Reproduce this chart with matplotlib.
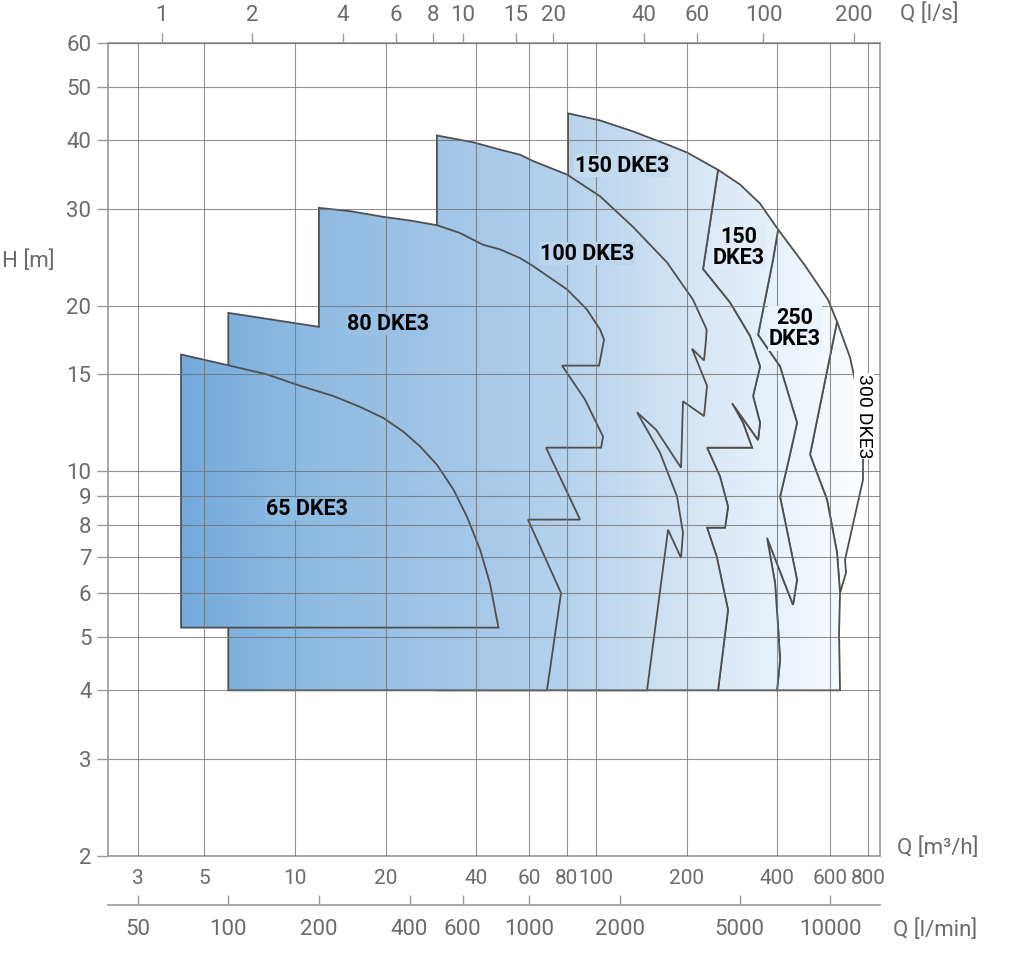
import numpy as np
import matplotlib
matplotlib.use('Agg')
import matplotlib.pyplot as plt
from matplotlib.patches import Polygon
from matplotlib.colors import LinearSegmentedColormap
from matplotlib.ticker import FixedLocator, FixedFormatter, NullLocator

plt.rcParams['font.family'] = ['Roboto', 'DejaVu Sans']

# Werte: Q in m3/h, H in m
h_floor = 4.0

# 65 DKE3 (geschlossene Kontur)
q65 = [4.18, 4.18, 47.4, 44.4, 41.2, 37.2, 33.6, 29.6, 26.0, 22.9, 19.65, 16.4, 13.4, 10.4, 8.05, 5.94]
h65 = [16.3, 5.2, 5.2, 6.26, 7.2, 8.28, 9.26, 10.28, 11.1, 11.8, 12.5, 13.1, 13.7, 14.3, 15.0, 15.6]

# 80 DKE3 (geschlossene Kontur)
q80 = [6.0, 6.0, 12.0, 12.0, 15.2, 19.6, 24.1, 29.6, 35.3, 42.1, 48.0, 55.9, 61.75, 80.1,
       93.1, 103.1, 106.3, 102.3, 77.1, 91.9, 105.5, 103.9, 68.2, 88.5, 59.4, 76.5, 68.7]
h80 = [4.0, 19.4, 18.3, 30.1, 29.7, 29.0, 28.55, 28.0, 27.1, 25.8, 25.3, 24.4, 23.6, 21.4,
       19.7, 18.1, 17.35, 15.56, 15.56, 13.5, 11.56, 11.04, 11.04, 8.17, 8.17, 6.01, 4.0]

# 100 DKE3: obere Kennlinie und rechter Rand
q100_top = [29.6, 39.1, 48.0, 55.9, 61.9, 80.1, 103.1, 132.7, 172.2, 210.0, 233.0, 232.0]
h100_top = [40.75, 39.6, 38.4, 37.6, 36.6, 34.6, 31.6, 27.8, 23.95, 20.5, 18.1, 17.35]
q100_edge = [228.4, 208.4, 233.8, 228.4, 194.5, 191.6, 158.3, 136.8, 163.2,
             185.8, 194.5, 191.6, 173.5, 147.7]
h100_edge = [15.9, 16.7, 14.3, 12.6, 13.4, 10.15, 11.9, 12.8, 10.8, 9.0, 7.73,
             6.96, 7.83, 4.0]

# gemeinsame obere Huellkurve 150 / 250 / 300 DKE3
q_env = [80.7, 103.1, 132.7, 172.2, 200.6, 254.3, 300.8, 350.7, 402.5, 494.7, 590.0,
         632.0, 698.1, 742.0, 765.1, 771.0, 771.0, 671.9, 677.0, 646.7, 646.7]
h_env = [44.7, 43.4, 41.45, 39.25, 37.95, 35.3, 33.2, 30.65, 27.5, 23.65, 20.5,
         18.7, 16.1, 13.8, 11.9, 10.5, 9.65, 6.91, 6.54, 6.01, 4.0]

# Grenzen zwischen den Bereichen (von oben nach unten)
q150_edge = [254.3, 226.7, 278.7, 324.9, 350.7, 332.4, 350.7, 345.4, 283.0,
             307.9, 329.9, 233.8, 258.2, 274.5, 268.3, 233.8, 251.8, 274.5, 254.3]
h150_edge = [35.3, 23.3, 20.25, 17.6, 15.5, 13.7, 12.25, 11.4, 13.3, 12.25,
             11.04, 11.04, 9.78, 8.62, 7.9, 7.9, 6.99, 5.6, 4.0]
q150b_edge = [402.5, 387.3, 345.4, 408.7, 465.4, 434.5, 408.7, 465.4, 451.4,
              370.0, 393.3, 402.5, 408.7, 399.4]
h150b_edge = [27.5, 24.25, 17.7, 15.5, 12.25, 10.36, 8.99, 6.35, 5.72, 7.57,
              6.27, 5.22, 4.54, 4.0]
q250_edge = [632.0, 514.0, 585.5, 632.0, 646.7, 641.8, 646.7]
h250_edge = [18.7, 10.72, 8.88, 7.11, 6.01, 5.09, 4.0]

labels = ['65 DKE3', '80 DKE3', '100 DKE3', '150 DKE3', '150\nDKE3', '250\nDKE3', '300 DKE3']
label_q = [10.96, 20.37, 93.3, 122.0, 298.7, 458.3, 776.9]
label_h = [8.55, 18.55, 24.87, 35.94, 25.5, 18.17, 12.58]

q_ticks = [3, 5, 10, 20, 40, 60, 80, 100, 200, 400, 600, 800]
ls_ticks = [1, 2, 4, 6, 8, 10, 15, 20, 40, 60, 100, 200]
lmin_ticks = [50, 100, 200, 400, 600, 1000, 2000, 5000, 10000]
h_ticks = [2, 3, 4, 5, 6, 7, 8, 9, 10, 15, 20, 30, 40, 50, 60]


def pts(q, h):
    return list(zip(q, h))


env = pts(q_env, h_env)
e150 = pts(q150_edge, h150_edge)
e150b = pts(q150b_edge, h150b_edge)
e250 = pts(q250_edge, h250_edge)

# Reihenfolge: rechts (hinten) nach links (vorne)
regions = [
    env[11:20] + e250[3::-1],                                 # 300
    env[8:12] + e250[1:] + e150b[::-1],                       # 250
    env[5:9] + e150b[1:] + e150[::-1],                        # 150 (rechts)
    [(q_env[0], h_floor)] + env[0:6] + e150[1:],              # 150
    [(q100_top[0], h_floor)] + pts(q100_top, h100_top) + pts(q100_edge, h100_edge),
    pts(q80, h80),
    pts(q65, h65),
]

grad_cmap = LinearSegmentedColormap.from_list('dke', [
    (0.0, '#70a7da'), (0.095, '#74aadc'), (0.25, '#8dbae2'), (0.51, '#aacae9'),
    (0.64, '#bed7ee'), (0.77, '#d7e7f5'), (0.90, '#eef5fb'), (0.98, '#fbfdff'),
    (1.0, '#fdfeff')])

fig = plt.figure(figsize=(10.24, 9.55), dpi=100)
ax = fig.add_axes([108 / 1024, 1 - 856 / 955, (880 - 108) / 1024, (856 - 43) / 955])
ax.set_xscale('log')
ax.set_yscale('log')
xmin, xmax = 2.39, 878.0
ax.set_xlim(xmin, xmax)
ax.set_ylim(2, 60)
ax.set_autoscale_on(False)

grad = np.linspace(0, 1, 600).reshape(1, -1)
for i, poly in enumerate(regions):
    z = 1 + i * 0.2
    clip = Polygon(poly, closed=True, transform=ax.transData)
    im = ax.imshow(grad, extent=(0, 1, 0, 1), transform=ax.transAxes, cmap=grad_cmap,
                   aspect='auto', interpolation='bilinear', zorder=z)
    im.set_clip_path(clip)
    ax.add_patch(Polygon(poly, closed=True, fill=False, edgecolor='#4f4f4f',
                         lw=1.3, joinstyle='miter', zorder=z + 0.1))

# Gitter
ax.xaxis.set_major_locator(FixedLocator(q_ticks))
ax.xaxis.set_major_formatter(FixedFormatter([str(t) for t in q_ticks]))
ax.xaxis.set_minor_locator(NullLocator())
ax.yaxis.set_major_locator(FixedLocator(h_ticks))
ax.yaxis.set_major_formatter(FixedFormatter([str(t) for t in h_ticks]))
ax.yaxis.set_minor_locator(NullLocator())
ax.set_axisbelow(False)
ax.grid(True, which='major', color='#6e6e6e', lw=0.8, alpha=0.75)

tick_col = '#6b6b6b'
fs = 16
ax.tick_params(axis='x', length=0, pad=9, labelsize=15, labelcolor=tick_col)
ax.tick_params(axis='y', length=8, width=1, color='#9a9a9a', pad=4,
               labelsize=fs, labelcolor=tick_col)
for sp in ax.spines.values():
    sp.set_color('#9a9a9a')
    sp.set_linewidth(1.2)

# obere Achse l/s
top = ax.secondary_xaxis('top', functions=(lambda q: q / 3.6, lambda s: s * 3.6))
top.set_xticks(ls_ticks, labels=[str(t) for t in ls_ticks])
top.xaxis.set_minor_locator(NullLocator())
top.tick_params(axis='x', direction='out', length=7, width=1, color='#9a9a9a',
                pad=5, labelsize=fs, labelcolor=tick_col)
for sp in top.spines.values():
    sp.set_color('#9a9a9a')

# untere Achse l/min
low = ax.secondary_xaxis(-0.0603, functions=(lambda q: q / 0.06, lambda s: s * 0.06))
low.set_xticks(lmin_ticks, labels=[str(t) for t in lmin_ticks])
low.xaxis.set_minor_locator(NullLocator())
low.tick_params(axis='x', direction='in', length=7, width=1, color='#9a9a9a',
                pad=10, labelsize=fs, labelcolor=tick_col)
for sp in low.spines.values():
    sp.set_color('#9a9a9a')
    sp.set_linewidth(1.2)

# Beschriftungen der Bereiche
lx0, lx1 = np.log10(xmin), np.log10(xmax)
for txt, q, h in zip(labels, label_q, label_h):
    frac = (np.log10(q) - lx0) / (lx1 - lx0)
    if txt.startswith('300'):
        ax.text(q, h, txt, rotation=270, ha='center', va='center', fontsize=14,
                color='black', zorder=6,
                bbox=dict(facecolor='white', edgecolor='none', pad=0.5))
    else:
        ax.text(q, h, txt, ha='center', va='center', fontsize=15.5, fontweight='bold',
                color='black', linespacing=0.95, zorder=6,
                bbox=dict(facecolor=grad_cmap(frac), edgecolor='none', pad=0.5))

fig.text(900 / 1024, 1 - 14 / 955, 'Q [l/s]', ha='left', va='center', fontsize=fs, color=tick_col)
fig.text(897 / 1024, 1 - 848 / 955, 'Q [m³/h]', ha='left', va='center', fontsize=fs, color=tick_col)
fig.text(893 / 1024, 1 - 930 / 955, 'Q [l/min]', ha='left', va='center', fontsize=fs, color=tick_col)
fig.text(2 / 1024, 1 - 261 / 955, 'H [m]', ha='left', va='center', fontsize=fs, color=tick_col)

fig.savefig('out.png', dpi=100)
